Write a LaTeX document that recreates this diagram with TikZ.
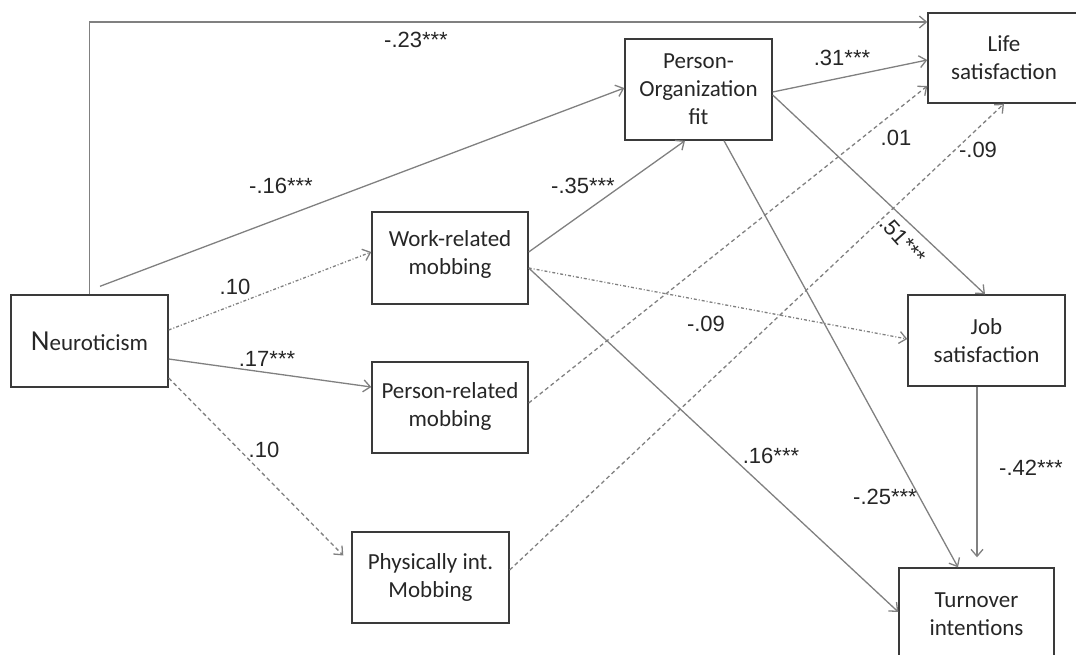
\documentclass[tikz,border=0pt]{standalone}
\usepackage{fontspec}
\setmainfont{Carlito}
\newfontfamily\lblfont{Liberation Sans}
\usetikzlibrary{arrows.meta}
\definecolor{boxc}{HTML}{3A3A3A}
\definecolor{linec}{HTML}{808080}
\definecolor{txtc}{HTML}{262626}
\begin{document}
\begin{tikzpicture}[x=1pt,y=-1pt,
  box/.style={draw=boxc, line width=1.4pt, align=center, text=txtc, inner sep=2pt,
    font=\fontsize{23}{28}\selectfont},
  lbl/.style={font=\lblfont\fontsize{22}{25}\selectfont, text=txtc, inner sep=0pt},
  conn/.style={draw=linec, line width=1.3pt, -{Straight Barb[length=7pt,width=12pt]}},
  dotc/.style={conn, dash pattern=on 3pt off 2pt on 1pt off 2pt},
  dashc/.style={conn, dash pattern=on 4pt off 3pt}]
\useasboundingbox (0,0) rectangle (1076,655);
\clip (0,0) rectangle (1076,655);
% boxes
\node[box, minimum width=157pt, minimum height=92pt] (neu) at (89.5,341)
  {{\fontsize{29}{30}\selectfont N}euroticism};
\node[box, minimum width=156pt, minimum height=92pt, text depth=10pt] (work) at (450,258)
  {Work-related\\mobbing};
\node[box, minimum width=156pt, minimum height=91pt, text depth=6pt] (pr) at (450,407.5)
  {Person-related\\mobbing};
\node[box, minimum width=157pt, minimum height=91pt] (phys) at (430.5,577.5)
  {Physically int.\\Mobbing};
\node[box, minimum width=147pt, minimum height=101pt] (po) at (698.5,89.5)
  {Person-\\Organization\\fit};
\node[box, minimum width=152pt, minimum height=90pt, text depth=0pt] (life) at (1004,58)
  {Life\\satisfaction};
\node[box, minimum width=157pt, minimum height=91pt] (job) at (986.5,340.5)
  {Job\\satisfaction};
\node[box, minimum width=155pt, minimum height=92pt] (turn) at (976.5,614)
  {Turnover\\intentions};
% connectors
\draw[conn] (neu.north) |- ([yshift=36pt]life.west);
\draw[conn] ([xshift=10.5pt,yshift=8pt]neu.north) -- ([yshift=1.5pt]po.west);
\draw[dotc] ([yshift=11pt]neu.east) -- ([yshift=6pt]work.west);
\draw[conn] ([yshift=-18pt]neu.east) -- ([yshift=20.5pt]pr.west);
\draw[dashc] ([yshift=-37pt]neu.east) -- ([xshift=-8pt,yshift=22pt]phys.west);
\draw[conn] ([yshift=6pt]work.east) -- ([xshift=-13.5pt]po.south);
\draw[conn] ([yshift=-2.5pt]po.east) -- ([yshift=-2pt]life.west);
\draw[conn] ([yshift=-5.5pt]po.east) -- ([xshift=-1.5pt]job.north);
\draw[conn] ([xshift=25.5pt]po.south) -- ([xshift=-18.5pt]turn.north);
\draw[dotc] ([yshift=-10pt]work.east) -- ([yshift=1.5pt]job.west);
\draw[conn] ([yshift=-10pt]work.east) -- ([yshift=2pt]turn.west);
\draw[dashc] ([yshift=4.5pt]pr.east) -- ([yshift=-28pt]life.west);
\draw[dashc] ([yshift=7.5pt]phys.east) -- (life.south);
\coordinate (js) at ([xshift=-9.5pt]job.south);
\coordinate (jt) at ([yshift=10pt]turn.north);
\draw[conn] (js) -- (js |- jt);
% labels
\node[lbl] (l1) at (416,40) {-.23***};
\node[lbl] (l2) at (281,186) {-.16***};
\node[lbl] (l3) at (235,287) {.10};
\node[lbl] (l4) at (267,359) {.17***};
\node[lbl] (l5) at (264,450) {.10};
\node[lbl] (l6) at (583,186) {-.35***};
\node[lbl] (l7) at (842,58) {.31***};
\node[lbl] (l8) at (896,138) {.01};
\node[lbl] (l9) at (978,150) {-.09};
\node[lbl, rotate=-48] (l10) at (903,240) {.51***};
\node[lbl] (l11) at (706,324) {-.09};
\node[lbl] (l12) at (771,456) {.16***};
\node[lbl] (l13) at (885,497) {-.25***};
\node[lbl] (l14) at (1031,468) {-.42***};
\end{tikzpicture}
\end{document}
